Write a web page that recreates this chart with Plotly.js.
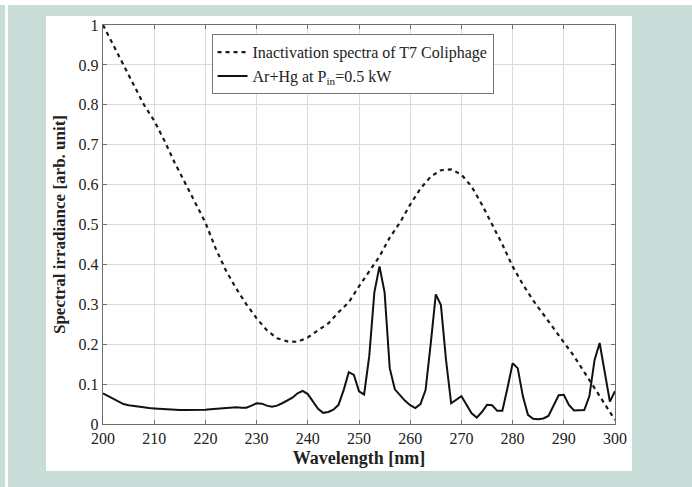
<!DOCTYPE html>
<html>
<head>
<meta charset="utf-8">
<script src="https://cdn.plot.ly/plotly-3.0.1.min.js"></script>
<style>
  html, body { margin:0; padding:0; }
  body { width:692px; height:487px; background:#c9ddd8; position:relative; overflow:hidden; }
  #topband { position:absolute; left:0; top:0; width:692px; height:5px; background:#ffffff; }
  #sideband { position:absolute; left:5px; top:5px; width:3px; height:482px; background:#ffffff; }
  #chart { position:absolute; left:46px; top:16px; width:586px; height:455px; }
</style>
</head>
<body>
<div id="topband"></div>
<div id="sideband"></div>
<div id="chart"></div>
<script>
// Inactivation spectrum of T7 coliphage (dashed)
const inactWavelength = [200,202,204,206,208,210,212,214,216,218,220,222,224,226,228,230,232,234,236,238,240,242,244,246,248,250,252,254,256,258,260,262,264,266,268,270,272,274,276,278,280,282,284,286,288,290,292,294,296,298,300];
const inactValues = [1.0,0.95,0.90,0.85,0.80,0.76,0.71,0.655,0.605,0.555,0.505,0.44,0.385,0.34,0.30,0.265,0.235,0.215,0.207,0.206,0.217,0.235,0.252,0.28,0.305,0.345,0.382,0.42,0.467,0.505,0.55,0.59,0.62,0.636,0.638,0.625,0.595,0.55,0.50,0.45,0.395,0.35,0.31,0.275,0.24,0.205,0.17,0.13,0.09,0.05,0.01];

// Ar+Hg lamp spectrum at Pin = 0.5 kW (solid)
const lampWavelength = [200,201,202,203,204,205,206,207,208,209,210,211,212,213,214,215,216,217,218,219,220,221,222,223,224,225,226,227,228,229,230,231,232,233,234,235,236,237,238,239,240,241,242,243,244,245,246,247,248,249,250,251,252,253,254,255,256,257,258,259,260,261,262,263,264,265,266,267,268,269,270,271,272,273,274,275,276,277,278,279,280,281,282,283,284,285,286,287,288,289,290,291,292,293,294,295,296,297,298,299,300];
const lampValues = [0.077,0.070,0.062,0.056,0.050,0.047,0.045,0.044,0.042,0.040,0.039,0.038,0.037,0.036,0.036,0.035,0.035,0.035,0.035,0.036,0.036,0.037,0.038,0.038,0.039,0.040,0.042,0.041,0.041,0.046,0.052,0.051,0.046,0.043,0.046,0.052,0.058,0.066,0.077,0.083,0.075,0.058,0.038,0.028,0.030,0.036,0.048,0.085,0.130,0.123,0.082,0.074,0.170,0.330,0.395,0.330,0.140,0.087,0.072,0.058,0.047,0.040,0.050,0.085,0.200,0.325,0.298,0.160,0.052,0.060,0.070,0.048,0.027,0.016,0.030,0.048,0.047,0.033,0.033,0.090,0.152,0.140,0.070,0.023,0.013,0.012,0.014,0.020,0.045,0.072,0.073,0.048,0.034,0.035,0.035,0.070,0.160,0.203,0.130,0.056,0.082];

const xTicks = [200,210,220,230,240,250,260,270,280,290,300];
const yTicks = [0,0.1,0.2,0.3,0.4,0.5,0.6,0.7,0.8,0.9,1];
const yTickText = ['0','0.1','0.2','0.3','0.4','0.5','0.6','0.7','0.8','0.9','1'];

const serif = 'Liberation Serif, Times New Roman, serif';

const traces = [
  {
    x: inactWavelength, y: inactValues, type: 'scatter', mode: 'lines',
    name: 'Inactivation spectra of T7 Coliphage',
    line: { color: '#1a1a1a', width: 2.2, dash: '4px,4px' }
  },
  {
    x: lampWavelength, y: lampValues, type: 'scatter', mode: 'lines',
    name: 'Ar+Hg at P<sub>in</sub>=0.5 kW',
    line: { color: '#111111', width: 2 }
  }
];

const axisCommon = {
  showgrid: true, gridcolor: '#dcdcdc', gridwidth: 1,
  showline: true, linecolor: '#6e6e6e', linewidth: 1.2, mirror: 'ticks',
  ticks: 'inside', ticklen: 4, tickcolor: '#6e6e6e',
  zeroline: false,
  tickfont: { family: serif, size: 16, color: '#222' }
};

const layout = {
  width: 586, height: 455,
  paper_bgcolor: '#ffffff', plot_bgcolor: '#ffffff',
  margin: { l: 57, r: 17, t: 9, b: 47 },
  showlegend: true,
  legend: {
    x: 0.212, y: 0.977, xanchor: 'left', yanchor: 'top',
    bgcolor: '#ffffff', bordercolor: '#777777', borderwidth: 1,
    font: { family: serif, size: 16, color: '#222' },
    tracegroupgap: 0, itemwidth: 30
  },
  xaxis: Object.assign({}, axisCommon, {
    range: [200, 300], tickvals: xTicks, ticktext: xTicks.map(String),
    title: { text: '<b>Wavelength [nm]</b>', font: { family: serif, size: 18, color: '#222' }, standoff: 5 }
  }),
  yaxis: Object.assign({}, axisCommon, {
    range: [0, 1], tickvals: yTicks, ticktext: yTickText,
    title: { text: '<b>Spectral irradiance [arb. unit]</b>', font: { family: serif, size: 17, color: '#222' }, standoff: 8 }
  })
};

Plotly.newPlot('chart', traces, layout, { displayModeBar: false, staticPlot: true });
</script>
</body>
</html>
